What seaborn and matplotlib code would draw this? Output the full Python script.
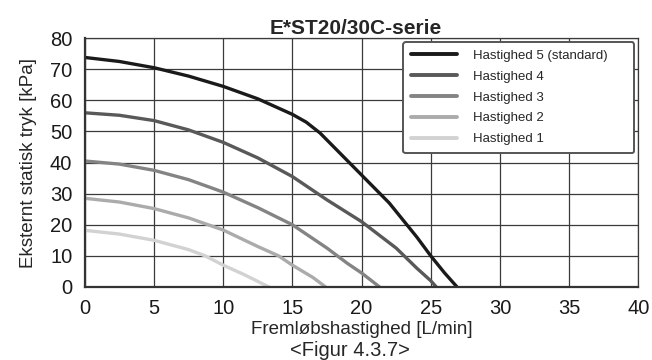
import pandas as pd
import numpy as np
import seaborn as sns
import matplotlib
matplotlib.use("Agg")
import matplotlib.pyplot as plt

# values
flow_5 = [0, 2.5, 5, 7.5, 10, 12.5, 15, 16, 17, 18, 19, 20, 21, 22, 23, 24, 25, 26, 26.9]
head_5 = [73.8, 72.5, 70.5, 67.8, 64.5, 60.5, 55.5, 53, 49.5, 45, 40.5, 36, 31.5, 27, 21.5, 16, 10, 4.5, 0]
flow_4 = [0, 2.5, 5, 7.5, 10, 12.5, 15, 17.5, 20, 22.5, 24, 25, 25.4]
head_4 = [56, 55.2, 53.5, 50.5, 46.5, 41.5, 35.5, 28, 21, 12.5, 6, 2, 0]
flow_3 = [0, 2.5, 5, 7.5, 10, 12.5, 15, 17.5, 19, 20, 21.3]
head_3 = [40.5, 39.5, 37.5, 34.5, 30.5, 25.5, 20, 12.5, 7.5, 4.5, 0]
flow_2 = [0, 2.5, 5, 7.5, 10, 12.5, 14, 15, 16.5, 17.4]
head_2 = [28.5, 27.3, 25.2, 22.2, 18.3, 13, 10, 7, 3, 0]
flow_1 = [0, 2.5, 5, 7.5, 8.7, 10, 11.5, 13.3]
head_1 = [18.2, 17, 15, 12, 10, 7, 4, 0]

labels = ["Hastighed 5 (standard)", "Hastighed 4", "Hastighed 3", "Hastighed 2", "Hastighed 1"]
colors = ["#1a1a1a", "#595959", "#848484", "#ababab", "#d2d2d2"]

frames = []
for lab, fx, hy in zip(labels, [flow_5, flow_4, flow_3, flow_2, flow_1],
                       [head_5, head_4, head_3, head_2, head_1]):
    frames.append(pd.DataFrame({"flow": fx, "head": hy, "speed": lab}))
df = pd.concat(frames, ignore_index=True)

sns.set_style("white")
plt.rcParams["font.family"] = ["Liberation Sans", "DejaVu Sans"]

fig = plt.figure(figsize=(6.52, 3.6), dpi=100)
ax = fig.add_axes([0.130, 0.203, 0.849, 0.691])

sns.lineplot(data=df, x="flow", y="head", hue="speed", hue_order=labels,
             palette=colors, estimator=None, sort=False, linewidth=2.4, ax=ax)

ax.set_xlim(0, 40)
ax.set_ylim(0, 80)
ax.set_xticks(np.arange(0, 41, 5))
ax.set_yticks(np.arange(0, 81, 10))
ax.grid(True, color="#3a3a3a", linewidth=0.9)
ax.set_axisbelow(True)
for side in ["top", "right"]:
    ax.spines[side].set_color("#3a3a3a")
    ax.spines[side].set_linewidth(0.9)
for side in ["left", "bottom"]:
    ax.spines[side].set_color("#333333")
    ax.spines[side].set_linewidth(1.6)
ax.tick_params(axis="x", labelsize=14.5, length=0, pad=9, colors="#1a1a1a")
ax.tick_params(axis="y", labelsize=14.5, length=0, pad=9, colors="#1a1a1a")

ax.set_title("E*ST20/30C-serie", fontsize=15, fontweight="bold", pad=3, x=0.49)
ax.set_xlabel("Fremløbshastighed [L/min]", fontsize=13.5, labelpad=2)
ax.set_ylabel("Eksternt statisk tryk [kPa]", fontsize=13.5, labelpad=9)
fig.text(0.537, 0.0, "<Figur 4.3.7>", ha="center", va="bottom", fontsize=14.5)

leg = ax.legend(loc="upper left", bbox_to_anchor=(0.575, 0.985, 0.418, 0.0), mode="expand",
                fontsize=9.5, frameon=True, fancybox=True, handlelength=3.5,
                handletextpad=1.2, borderpad=0.6, labelspacing=0.65, borderaxespad=0)
leg.get_frame().set_edgecolor("#555555")
leg.get_frame().set_linewidth(1.4)
leg.get_frame().set_alpha(1)
for line in leg.get_lines():
    line.set_linewidth(2.8)

fig.savefig("out.png", dpi=100)
